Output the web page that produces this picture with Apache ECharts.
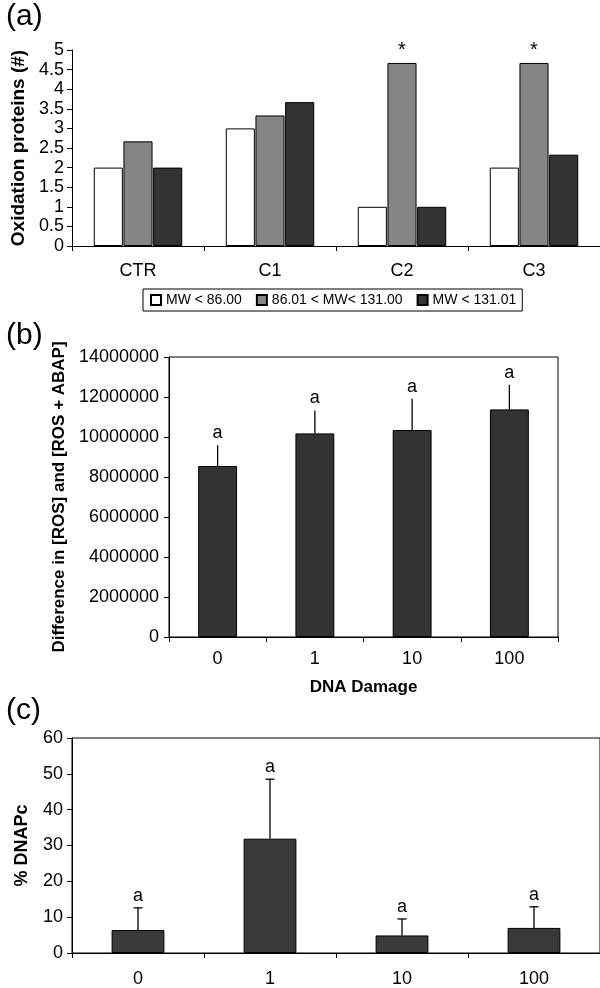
<!DOCTYPE html>
<html>
<head>
<meta charset="utf-8">
<title>Oxidation proteins / ROS / DNAPc</title>
<script src="https://cdn.jsdelivr.net/npm/echarts@6/dist/echarts.min.js"></script>
<style>
  html, body { margin: 0; padding: 0; background: #fff; }
  #chart { width: 600px; height: 988px; }
</style>
</head>
<body>
<div id="chart"></div>
<script>
// (a) oxidation proteins
var groupsA = ['CTR', 'C1', 'C2', 'C3'];
var lowMW = [2, 3, 1, 2];
var midMW = [2.67, 3.33, 4.67, 4.67];
var highMW = [2, 3.67, 1, 2.33];
var starsA = ['', '', '*', '*'];
var namesA = ['MW < 86.00', '86.01 < MW< 131.00', 'MW < 131.01'];
var ticksA = [0, 0.5, 1, 1.5, 2, 2.5, 3, 3.5, 4, 4.5, 5];

// (b) ROS difference vs DNA damage
var doses = ['0', '1', '10', '100'];
var rosDiff = [8550000, 10180000, 10350000, 11380000];
var rosErr = [1040000, 1150000, 1560000, 1230000];
var rosLetters = ['a', 'a', 'a', 'a'];

// (c) % DNAPc
var dnapc = [6.4, 31.9, 4.9, 7.0];
var dnapcErr = [6.2, 16.6, 4.6, 5.9];
var dnapcLetters = ['a', 'a', 'a', 'a'];

var FONT = '"Liberation Sans", Arial, sans-serif';
var chart = echarts.init(document.getElementById('chart'));

function catAxis(gridIndex, data, margin) {
    return {
        type: 'category',
        gridIndex: gridIndex,
        data: data,
        axisLine: { lineStyle: { color: '#000', width: 1 } },
        axisTick: { show: true, length: 5, lineStyle: { color: '#000' } },
        axisLabel: { color: '#000', fontSize: 18, fontFamily: FONT, margin: margin }
    };
}

function valAxis(gridIndex, max, interval, fontSize, margin) {
    return {
        type: 'value',
        gridIndex: gridIndex,
        min: 0,
        max: max,
        interval: interval,
        splitLine: { show: false },
        axisLine: { show: true, lineStyle: { color: '#000', width: 1 } },
        axisTick: { show: true, length: 5, lineStyle: { color: '#000' } },
        axisLabel: {
            color: '#000', fontSize: fontSize, fontFamily: FONT, margin: margin,
            formatter: function (v) { return String(v); }
        },
        nameLocation: 'middle',
        nameRotate: 90,
        nameTextStyle: { color: '#000', fontWeight: 'bold', fontFamily: FONT }
    };
}

// error bar + letter drawn through the axes
function errorBar(capWidth, letters) {
    return function (params, api) {
        var base = api.coord([api.value(0), api.value(1)]);
        var top = api.coord([api.value(0), api.value(1) + api.value(2)]);
        var children = [{
            type: 'line',
            shape: { x1: base[0], y1: base[1], x2: top[0], y2: top[1] },
            style: { stroke: '#000', lineWidth: 1.3 }
        }];
        if (capWidth > 0) {
            children.push({
                type: 'line',
                shape: { x1: top[0] - capWidth / 2, y1: top[1], x2: top[0] + capWidth / 2, y2: top[1] },
                style: { stroke: '#000', lineWidth: 1.3 }
            });
        }
        children.push({
            type: 'text',
            style: {
                text: letters[params.dataIndex],
                x: top[0], y: top[1] - 3,
                textAlign: 'center', textVerticalAlign: 'bottom',
                font: '18px ' + FONT, fill: '#000'
            }
        });
        return { type: 'group', children: children };
    };
}

var yA = valAxis(0, 5, 0.5, 18, 8);
yA.name = 'Oxidation proteins (#)';
yA.nameGap = 34;
yA.nameTextStyle.fontSize = 19;
yA.axisLabel.formatter = function (v) { return ticksA.indexOf(v) >= 0 ? String(v) : ''; };

var yB = valAxis(1, 14000000, 2000000, 18, 10);
yB.name = 'Difference in [ROS] and [ROS + ABAP]';
yB.nameGap = 86;
yB.nameTextStyle.fontSize = 17;

var yC = valAxis(2, 60, 10, 18, 9);
yC.name = '% DNAPc';
yC.nameGap = 41;
yC.nameTextStyle.fontSize = 18;

var xB = catAxis(1, doses, 13);
xB.name = 'DNA Damage';
xB.nameLocation = 'middle';
xB.nameGap = 42;
xB.nameTextStyle = { color: '#000', fontWeight: 'bold', fontSize: 17, fontFamily: FONT };

var option = {
    animation: false,
    textStyle: { fontFamily: FONT },
    grid: [
        { left: 72, top: 50, width: 528, height: 196 },
        { left: 169, top: 357, width: 389, height: 280, show: true, borderColor: '#000', borderWidth: 1 },
        { left: 72, top: 738, width: 532, height: 218, show: true, borderColor: '#000', borderWidth: 1 }
    ],
    xAxis: [
        catAxis(0, groupsA, 16),
        xB,
        catAxis(2, doses, 17)
    ],
    yAxis: [yA, yB, yC],
    legend: {
        left: 143,
        top: 289,
        padding: [4, 6, 4, 7],
        itemGap: 14,
        itemWidth: 10,
        itemHeight: 10,
        icon: 'rect',
        borderColor: '#000',
        borderWidth: 1,
        data: namesA,
        textStyle: { color: '#000', fontSize: 14, fontFamily: FONT }
    },
    graphic: [
        { type: 'text', left: 6, top: 2, style: { text: '(a)', font: '30px ' + FONT, fill: '#000' } },
        { type: 'text', left: 6, top: 321, style: { text: '(b)', font: '30px ' + FONT, fill: '#000' } },
        { type: 'text', left: 6, top: 696, style: { text: '(c)', font: '30px ' + FONT, fill: '#000' } }
    ],
    series: [
        {
            name: namesA[0], type: 'bar', xAxisIndex: 0, yAxisIndex: 0,
            data: lowMW, barCategoryGap: '33%', barGap: '2%',
            itemStyle: { color: '#fff', borderColor: '#000', borderWidth: 1 }
        },
        {
            name: namesA[1], type: 'bar', xAxisIndex: 0, yAxisIndex: 0,
            data: midMW, barGap: '2%',
            itemStyle: { color: '#858585', borderColor: '#000', borderWidth: 1 },
            label: {
                show: true, position: 'top', distance: 2,
                formatter: function (p) { return starsA[p.dataIndex]; },
                color: '#000', fontSize: 20, fontFamily: FONT
            }
        },
        {
            name: namesA[2], type: 'bar', xAxisIndex: 0, yAxisIndex: 0,
            data: highMW, barGap: '2%',
            itemStyle: { color: '#333', borderColor: '#000', borderWidth: 1 }
        },
        {
            type: 'bar', xAxisIndex: 1, yAxisIndex: 1,
            data: rosDiff, barWidth: '40%',
            itemStyle: { color: '#333', borderColor: '#000', borderWidth: 1 }
        },
        {
            type: 'custom', xAxisIndex: 1, yAxisIndex: 1, z: 5,
            data: doses.map(function (d, i) { return [i, rosDiff[i], rosErr[i]]; }),
            renderItem: errorBar(0, rosLetters)
        },
        {
            type: 'bar', xAxisIndex: 2, yAxisIndex: 2,
            data: dnapc, barWidth: '40%',
            itemStyle: { color: '#3a3a3a', borderColor: '#000', borderWidth: 1 }
        },
        {
            type: 'custom', xAxisIndex: 2, yAxisIndex: 2, z: 5,
            data: doses.map(function (d, i) { return [i, dnapc[i], dnapcErr[i]]; }),
            renderItem: errorBar(9, dnapcLetters)
        }
    ]
};

chart.setOption(option);
</script>
</body>
</html>
